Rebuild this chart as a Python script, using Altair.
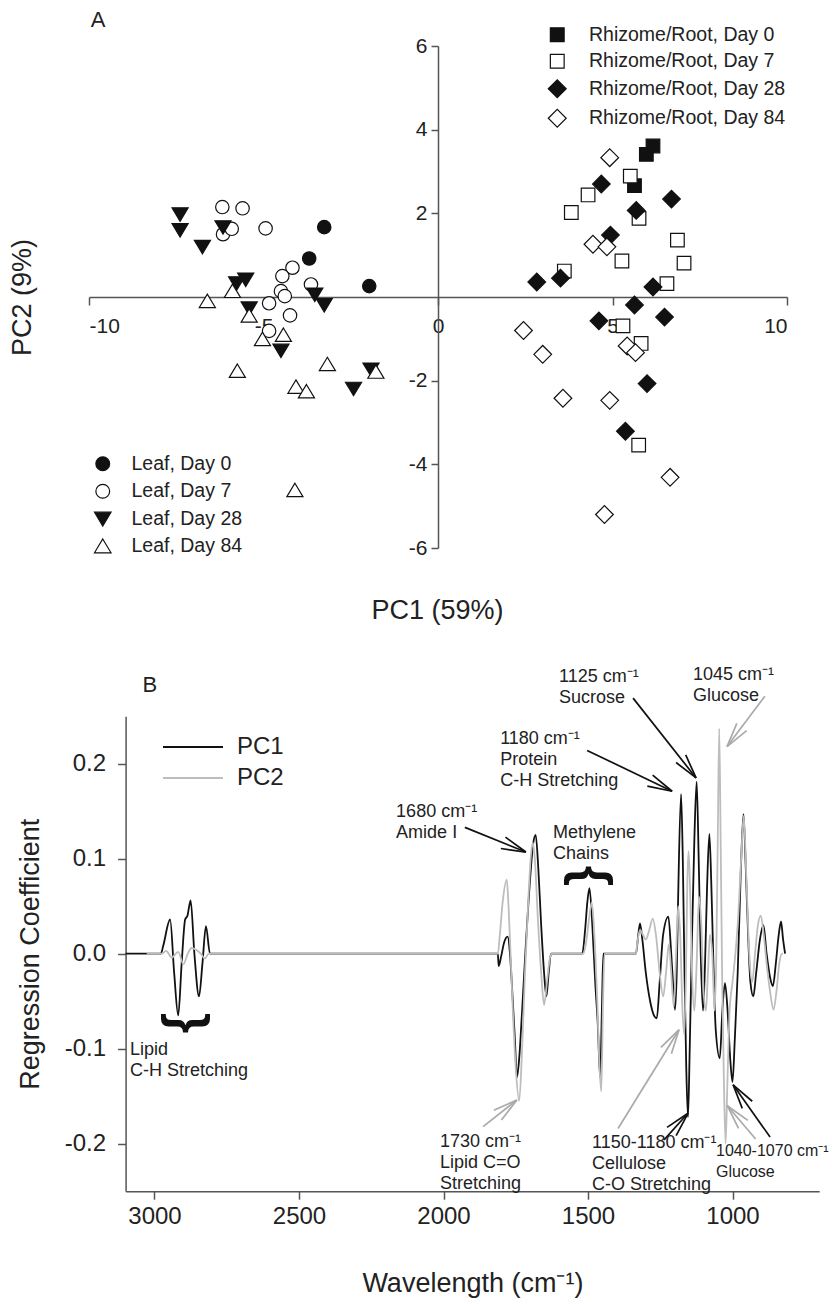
import math
import altair as alt
import pandas as pd

FONT = "Liberation Sans"
INK = "#222222"
AXIS_INK = "#555555"
W, H = 832, 1304

# ---------------- Panel A : PCA scores ----------------
leaf_groups = ["Leaf, Day 0", "Leaf, Day 7", "Leaf, Day 28", "Leaf, Day 84"]
root_groups = ["Rhizome/Root, Day 0", "Rhizome/Root, Day 7",
               "Rhizome/Root, Day 28", "Rhizome/Root, Day 84"]

leaf_d0_pc1 = [-3.26, -3.69, -1.97]
leaf_d0_pc2 = [1.67, 0.92, 0.26]
leaf_d7_pc1 = [-6.18, -5.60, -6.16, -5.91, -4.94, -4.17, -4.46, -3.64, -4.50, -4.39, -4.84, -4.24, -4.84]
leaf_d7_pc2 = [2.15, 2.12, 1.50, 1.63, 1.64, 0.70, 0.50, 0.30, 0.14, 0.02, -0.15, -0.44, -0.81]
leaf_d28_pc1 = [-7.39, -7.39, -6.75, -6.16, -5.77, -5.51, -5.41, -4.50, -3.53, -3.26, -2.42, -1.92]
leaf_d28_pc2 = [1.98, 1.60, 1.20, 1.67, 0.33, 0.42, -0.27, -1.28, 0.06, -0.19, -2.19, -1.73]
leaf_d84_pc1 = [-6.61, -5.89, -5.41, -5.03, -4.43, -5.75, -4.07, -3.77, -3.17, -1.78, -4.10]
leaf_d84_pc2 = [-0.10, 0.14, -0.45, -1.01, -0.91, -1.77, -2.15, -2.26, -1.61, -1.79, -4.62]

root_d0_pc1 = [6.16, 5.97, 5.63]
root_d0_pc2 = [3.61, 3.41, 2.66]
root_d7_pc1 = [5.51, 4.30, 3.82, 5.76, 5.27, 6.86, 7.05, 3.62, 6.56, 5.30, 5.82, 5.75]
root_d7_pc2 = [2.89, 2.44, 2.02, 1.88, 0.86, 1.36, 0.81, 0.62, 0.32, -0.69, -1.11, -3.54]
root_d28_pc1 = [5.68, 6.69, 4.94, 4.68, 3.51, 2.83, 6.16, 5.63, 6.49, 4.61, 5.99, 5.37]
root_d28_pc2 = [2.07, 2.34, 1.48, 2.70, 0.45, 0.36, 0.24, -0.19, -0.48, -0.57, -2.07, -3.21]
root_d84_pc1 = [4.92, 4.44, 4.84, 2.45, 3.00, 5.42, 5.66, 3.58, 4.92, 6.65, 4.77]
root_d84_pc2 = [3.33, 1.26, 1.20, -0.80, -1.37, -1.17, -1.33, -2.42, -2.47, -4.31, -5.20]

# ---------------- Panel B : regression coefficients ----------------
pc1_lipid = [(3100, 0), (2978, 0), (2970, 0.008), (2946, 0.036), (2932, -0.02), (2918, -0.065),
             (2906, -0.01), (2894, 0.036), (2886, 0.040), (2875, 0.056), (2862, 0.0),
             (2846, -0.045), (2834, -0.01), (2822, 0.029), (2808, 0)]
pc1_amide = [(1812, 0), (1809, -0.013), (1800, -0.002), (1790, 0.012), (1778, 0.018), (1770, 0.0),
             (1762, -0.04), (1753, -0.09), (1746, -0.13), (1738, -0.11), (1728, -0.06),
             (1715, 0.01), (1700, 0.08), (1690, 0.115), (1681, 0.125), (1672, 0.09),
             (1662, 0.03), (1652, -0.02), (1644, -0.045), (1636, -0.02), (1628, 0)]
pc1_methylene = [(1520, 0), (1510, 0.025), (1502, 0.055), (1495, 0.069), (1485, 0.03),
                 (1475, -0.03), (1466, -0.075), (1458, -0.13), (1452, -0.06), (1447, 0)]
pc1_finger = [(1334, 0), (1326, 0.02), (1320, 0.032), (1312, 0.015), (1300, -0.02), (1285, -0.05),
              (1270, -0.066), (1262, -0.068), (1252, -0.03), (1240, 0.02), (1222, 0.039),
              (1212, 0.0), (1204, -0.04), (1199, -0.059), (1193, -0.02), (1188, 0.06),
              (1178, 0.168), (1172, 0.1), (1166, -0.02), (1160, -0.12), (1154, -0.172),
              (1148, -0.1), (1140, 0.02), (1132, 0.12), (1124, 0.181), (1117, 0.1), (1110, 0.0),
              (1102, -0.06), (1095, -0.01), (1088, 0.07), (1080, 0.126), (1073, 0.07),
              (1066, -0.01), (1058, -0.08), (1044, -0.11), (1035, -0.06), (1026, -0.031),
              (1017, -0.06), (1008, -0.11), (1000, -0.135), (992, -0.09), (982, -0.02),
              (972, 0.08), (962, 0.147), (954, 0.09), (946, 0.02), (938, -0.03), (928, -0.045),
              (918, -0.02), (905, 0.015), (893, 0.03), (882, 0.0), (870, -0.025), (860, -0.034),
              (850, -0.01), (840, 0.02), (832, 0.034), (825, 0.015), (818, 0)]

pc2_lipid = [(3027, 0), (2975, 0), (2960, 0.003), (2940, -0.004), (2918, 0.002), (2900, -0.011),
             (2885, 0.0), (2872, 0.006), (2855, 0.004), (2840, 0.0), (2826, -0.005), (2812, 0)]
pc2_amide = [(1812, 0), (1805, 0.02), (1795, 0.055), (1781, 0.078), (1775, 0.05), (1768, 0.0),
             (1760, -0.06), (1750, -0.12), (1738, -0.155), (1728, -0.1), (1718, -0.02),
             (1706, 0.06), (1697, 0.105), (1691, 0.117), (1684, 0.1), (1674, 0.04),
             (1662, -0.02), (1652, -0.054), (1642, -0.03), (1632, -0.005), (1625, 0)]
pc2_methylene = [(1516, 0), (1505, 0.015), (1495, 0.04), (1487, 0.054), (1478, 0.02),
                 (1468, -0.05), (1460, -0.12), (1454, -0.145), (1448, -0.05), (1443, 0)]
pc2_finger = [(1334, 0), (1330, 0.01), (1320, 0.025), (1310, 0.02), (1300, 0.015), (1288, 0.025),
              (1276, 0.037), (1265, 0.02), (1252, -0.02), (1240, -0.045), (1230, -0.02),
              (1220, 0.01), (1212, -0.02), (1203, -0.056), (1195, 0.0), (1188, 0.05),
              (1181, 0.02), (1173, -0.06), (1167, -0.085), (1161, -0.02), (1156, 0.08),
              (1152, 0.108), (1147, 0.07), (1140, -0.02), (1132, -0.06), (1124, -0.01),
              (1116, 0.06), (1108, 0.03), (1100, -0.04), (1092, -0.06), (1085, -0.02),
              (1078, 0.02), (1070, 0.0), (1062, -0.06), (1056, 0.0), (1051, 0.12),
              (1046, 0.237), (1041, 0.12), (1036, -0.02), (1030, -0.13), (1024, -0.2),
              (1018, -0.14), (1010, -0.06), (1000, -0.03), (990, 0.0), (980, 0.04), (970, 0.1),
              (961, 0.145), (952, 0.08), (942, 0.0), (932, -0.03), (922, 0.0), (912, 0.03),
              (902, 0.04), (892, 0.02), (882, -0.01), (870, -0.04), (858, -0.059), (848, -0.04),
              (838, -0.01), (828, 0.0), (825, 0)]

ann_text = ["1125 cm\u207b\u00b9\nSucrose", "1045 cm\u207b\u00b9\nGlucose",
            "1180 cm\u207b\u00b9\nProtein\nC-H Stretching", "1680 cm\u207b\u00b9\nAmide I",
            "Methylene\nChains", "Lipid\nC-H Stretching",
            "1730 cm\u207b\u00b9\nLipid C=O\nStretching",
            "1150-1180 cm\u207b\u00b9\nCellulose\nC-O Stretching",
            "1040-1070 cm\u207b\u00b9\nGlucose"]
ann_wn = [1600, 1137, 1804, 2164, 1621, 3085, 2012, 1486, 1057]
ann_val = [0.301, 0.303, 0.236, 0.159, 0.137, -0.092, -0.189, -0.190, -0.199]
ann_size = [18, 18, 18, 18, 18, 18, 18, 18, 16]

arrow_from_wn = [1344, 888, 1503, 1926, 1863, 1396, 1237, 870, 920]
arrow_from_val = [0.269, 0.271, 0.214, 0.133, -0.182, -0.184, -0.196, -0.193, -0.195]
arrow_to_wn = [1126, 1019, 1209, 1715, 1746, 1185, 1154, 998, 1018]
arrow_to_val = [0.185, 0.218, 0.171, 0.107, -0.154, -0.080, -0.168, -0.138, -0.160]
arrow_color = ["#111111", "#aaaaaa", "#111111", "#111111", "#aaaaaa",
               "#aaaaaa", "#111111", "#111111", "#aaaaaa"]

brace_wn = [2903, 1491]
brace_val = [-0.073, 0.082]
brace_angle = [270, 90]

# ---------------- scales (pixel ranges inside the 832x1304 canvas) ----------------
AX_DOM, AX_RNG = [-10, 10], [89, 787]
AY_DOM, AY_RNG = [-6, 6], [548, 46]
BX_DOM, BX_RNG = [3100, 700], [125.6, 819.2]
BY_DOM, BY_RNG = [-0.25, 0.25], [1191.2, 716.2]

TRI_DOWN = "M-1.2,-0.95L1.2,-0.95L0,1.05Z"
TRI_UP = "M0,-1.05L1.2,0.95L-1.2,0.95Z"
DIAMOND = "M-1.3,0L0,-1.3L1.3,0L0,1.3Z"


def sc(dom, rng):
    return alt.Scale(domain=dom, range=rng, nice=False, zero=False)


def neg_expr(fmt):
    return f"datum.value < 0 ? '-' + format(-datum.value, '{fmt}') : format(datum.value, '{fmt}')"


def scatter_df(groups, sets):
    rows = []
    for g, (xs, ys) in zip(groups, sets):
        for x, y in zip(xs, ys):
            rows.append({"pc1": x, "pc2": y, "group": g})
    return pd.DataFrame(rows)


leaf_df = scatter_df(leaf_groups, [(leaf_d0_pc1, leaf_d0_pc2), (leaf_d7_pc1, leaf_d7_pc2),
                                   (leaf_d28_pc1, leaf_d28_pc2), (leaf_d84_pc1, leaf_d84_pc2)])
root_df = scatter_df(root_groups, [(root_d0_pc1, root_d0_pc2), (root_d7_pc1, root_d7_pc2),
                                   (root_d28_pc1, root_d28_pc2), (root_d84_pc1, root_d84_pc2)])

spec_rows = []
for name, regions in [("PC1", [pc1_lipid, pc1_amide, pc1_methylene, pc1_finger]),
                      ("PC2", [pc2_lipid, pc2_amide, pc2_methylene, pc2_finger])]:
    seq = [p for r in regions for p in r]
    for i, (wn, v) in enumerate(seq):
        spec_rows.append({"wn": wn, "val": v, "pc": name, "idx": i})
spec_df = pd.DataFrame(spec_rows)

ann_df = pd.DataFrame({"wn": ann_wn, "val": ann_val, "t": ann_text, "fs": ann_size})

px_wn = (BX_RNG[1] - BX_RNG[0]) / (BX_DOM[1] - BX_DOM[0])
px_val = (BY_RNG[1] - BY_RNG[0]) / (BY_DOM[1] - BY_DOM[0])
angs = []
for ws, vs, wt, vt in zip(arrow_from_wn, arrow_from_val, arrow_to_wn, arrow_to_val):
    dx = (wt - ws) * px_wn
    dy = (vt - vs) * px_val
    angs.append(math.degrees(math.atan2(dx, -dy)) % 360)
arrow_df = pd.DataFrame({"ws": arrow_from_wn, "vs": arrow_from_val, "wt": arrow_to_wn,
                         "vt": arrow_to_val, "col": arrow_color, "ang": angs})
brace_df = pd.DataFrame({"wn": brace_wn, "val": brace_val, "ang": brace_angle, "t": ["{", "{"]})

# ---------------- Panel A layers ----------------
ax_axis = alt.Axis(orient="bottom", offset=297 - H, values=[-10, -5, 0, 5, 10],
                   labelExpr=neg_expr("d"), labelFontSize=21, tickSize=8, labelPadding=10,
                   domainWidth=1.5, tickWidth=1.5, title="PC1 (59%)", titleFontSize=27,
                   titleY=313, titleX=437, titleBaseline="middle")
ay_axis = alt.Axis(orient="left", offset=-438, values=[-6, -4, -2, 2, 4, 6],
                   labelExpr=neg_expr("d"), labelFontSize=21, tickSize=7, labelPadding=4,
                   domainWidth=1.5, tickWidth=1.5, title="PC2 (9%)", titleFontSize=27,
                   titleX=22 - 438, titleBaseline="middle")


def scatter_layer(df, groups, shapes, fills, size, lx, ly, loff, rpad, axes):
    legend = alt.Legend(title=None, orient="none", legendX=lx, legendY=ly,
                        labelFont=FONT, labelFontSize=19.5, labelColor=INK, labelLimit=400,
                        symbolSize=190, symbolStrokeWidth=1.2,
                        labelOffset=loff, rowPadding=rpad, padding=0)
    return alt.Chart(df).mark_point(filled=True, strokeWidth=1.2, opacity=1, size=size).encode(
        x=alt.X("pc1:Q", scale=sc(AX_DOM, AX_RNG), axis=ax_axis if axes else None),
        y=alt.Y("pc2:Q", scale=sc(AY_DOM, AY_RNG), axis=ay_axis if axes else None),
        shape=alt.Shape("group:N", scale=alt.Scale(domain=groups, range=shapes), legend=legend),
        fill=alt.Fill("group:N", scale=alt.Scale(domain=groups, range=fills), legend=legend),
        stroke=alt.Stroke("group:N", scale=alt.Scale(domain=groups, range=["#111111"] * 4),
                          legend=legend),
    )


leaf_layer = scatter_layer(leaf_df, leaf_groups, ["circle", "circle", TRI_DOWN, TRI_UP],
                           ["#111111", "white", "#111111", "white"], 180,
                           93, 454, 19, 6.5, True)
root_layer = scatter_layer(root_df, root_groups, ["square", "square", DIAMOND, DIAMOND],
                           ["#111111", "white", "#111111", "white"], 185,
                           547.5, 25, 22, 5.5, False)

letterA = alt.Chart(pd.DataFrame({"x": [-9.74], "y": [6.62], "t": ["A"]})).mark_text(
    font=FONT, fontSize=22, color=INK, align="center", baseline="middle").encode(
    x=alt.X("x:Q", scale=sc(AX_DOM, AX_RNG), axis=None),
    y=alt.Y("y:Q", scale=sc(AY_DOM, AY_RNG), axis=None),
    text="t:N")

# ---------------- Panel B layers ----------------
bx_axis = alt.Axis(orient="bottom", offset=BY_RNG[0] - H, values=[3000, 2500, 2000, 1500, 1000],
                   format="d", labelFontSize=24, tickSize=8, labelPadding=5, domainWidth=1.5,
                   tickWidth=1.5, title="Wavelength (cm\u207b\u00b9)", titleFontSize=27,
                   titleY=92, titleBaseline="middle")
by_axis = alt.Axis(orient="left", offset=-BX_RNG[0], values=[-0.2, -0.1, 0, 0.1, 0.2],
                   labelExpr=neg_expr(".1f"), labelFontSize=24, tickSize=8, labelPadding=12,
                   domainWidth=1.5, tickWidth=1.5, title="Regression Coefficient",
                   titleFontSize=27, titleX=30 - BX_RNG[0], titleBaseline="middle")


def bx(field, axis=None):
    return alt.X(field, type="quantitative", scale=sc(BX_DOM, BX_RNG), axis=axis)


def by(field, axis=None):
    return alt.Y(field, type="quantitative", scale=sc(BY_DOM, BY_RNG), axis=axis)


lines = alt.Chart(spec_df).mark_line(strokeWidth=1.8, interpolate="monotone").encode(
    x=bx("wn", bx_axis), y=by("val", by_axis),
    color=alt.Color("pc:N", scale=alt.Scale(domain=["PC1", "PC2"], range=["#111111", "#bdbdbd"]),
                    legend=alt.Legend(title=None, orient="none", legendX=181, legendY=735,
                                      symbolType="M-6,0L6,0", symbolSize=100,
                                      symbolStrokeWidth=2.2, labelFont=FONT, labelFontSize=24,
                                      labelColor=INK, labelOffset=32, rowPadding=7, padding=0)),
    order=alt.Order("idx:Q"),
)

shafts = alt.Chart(arrow_df).mark_rule(strokeWidth=1.7).encode(
    x=bx("ws"), x2=alt.X2("wt"), y=by("vs"), y2=alt.Y2("vt"),
    color=alt.Color("col:N", scale=None))

heads = alt.Chart(arrow_df).mark_point(shape="M-0.5,2L0,0L0.5,2", filled=False, size=600,
                                       strokeWidth=1.7, opacity=1).encode(
    x=bx("wt"), y=by("vt"), angle=alt.Angle("ang:Q", scale=None),
    color=alt.Color("col:N", scale=None))

ann = alt.Chart(ann_df).mark_text(font=FONT, color=INK, align="left", baseline="top",
                                  lineBreak="\n", lineHeight=21).encode(
    x=bx("wn"), y=by("val"), text="t:N", size=alt.Size("fs:Q", scale=None))

braces = alt.Chart(brace_df).mark_text(font=FONT, fontSize=52, fontWeight="bold", color="#111111",
                                       align="center", baseline="middle").encode(
    x=bx("wn"), y=by("val"), text="t:N", angle=alt.Angle("ang:Q", scale=None))

letterB = alt.Chart(pd.DataFrame({"wn": [3016], "val": [0.283], "t": ["B"]})).mark_text(
    font=FONT, fontSize=22, color=INK, align="center", baseline="middle").encode(
    x=bx("wn"), y=by("val"), text="t:N")

chart = alt.layer(leaf_layer, root_layer, letterA, lines, shafts, heads, ann, braces, letterB).resolve_scale(
    x="independent", y="independent", color="independent", fill="independent",
    shape="independent", stroke="independent"
).properties(
    width=W, height=H, autosize=alt.AutoSizeParams(type="none"), padding=0, background="white"
).configure_view(stroke="transparent").configure_axis(
    labelFont=FONT, titleFont=FONT, titleFontWeight="normal", domainColor=AXIS_INK,
    tickColor=AXIS_INK, labelColor=INK, titleColor=INK, grid=False
)

chart.save("out.html", embed_options={"renderer": "svg", "actions": False})
